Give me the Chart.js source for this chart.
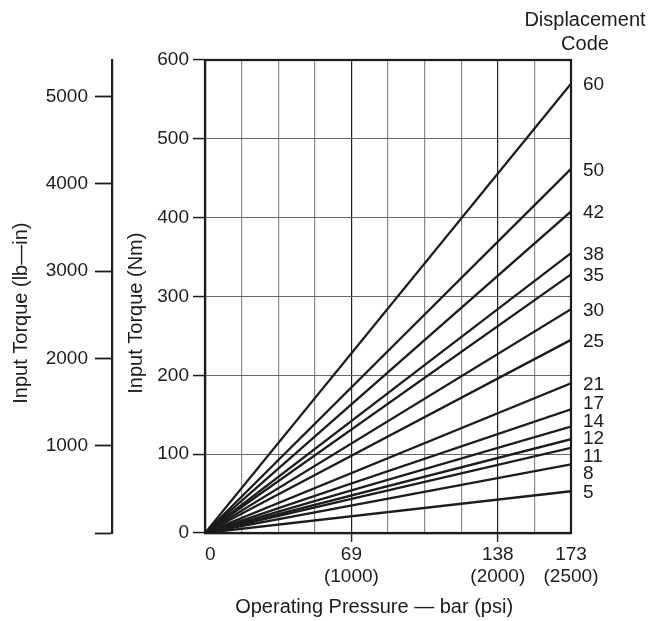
<!DOCTYPE html>
<html><head><meta charset="utf-8">
<script src="https://cdn.jsdelivr.net/npm/chart.js@4.4.0/dist/chart.umd.min.js"></script>
<style>html,body{margin:0;padding:0;background:#fff;} #wrap{width:668px;height:621px;position:relative;}</style>
</head><body><div id="wrap"><canvas id="c" width="668" height="621"></canvas></div>
<script>
// ---- data ----
const displacementCodes = ['60','50','42','38','35','30','25','21','17','14','12','11','8','5'];
const torqueAtMaxPressureNm = [570,462,408,355,328,284,245,190,157,135,119,108,87,53];
const pressureRangePsi = [0, 2500];
const pressureTickValuesPsi = [0, 1000, 2000, 2500];
const pressureTickBar = ['0', '69', '138', '173'];
const pressureTickPsi = ['', '(1000)', '(2000)', '(2500)'];
const nmTickValues = [0, 100, 200, 300, 400, 500, 600];
const lbinTickValues = [0, 1000, 2000, 3000, 4000, 5000];
const lbinAxisMax = 5420;
const legendHeader = ['Displacement', 'Code'];

const FONT = "'Liberation Sans', Arial, Helvetica, sans-serif";
const INK = '#1c1c1c';

const datasets = displacementCodes.map((code, i) => ({
  label: code,
  data: [
    {x: pressureRangePsi[0], y: 0},
    {x: pressureRangePsi[1], y: torqueAtMaxPressureNm[i]}
  ],
  showLine: true,
  borderColor: INK,
  borderWidth: 2.3,
  pointRadius: 0,
  yAxisID: 'y'
}));

const labelPlugin = {
  id: 'endLabels',
  afterDatasetsDraw(chart) {
    const {ctx, chartArea} = chart;
    // frame
    ctx.save();
    ctx.strokeStyle = INK;
    ctx.lineWidth = 2.2;
    ctx.strokeRect(chartArea.left, chartArea.top, chartArea.right - chartArea.left, chartArea.bottom - chartArea.top);
    // end labels with simple de-overlap
    const ys = chart.data.datasets.map((ds, i) => {
      const meta = chart.getDatasetMeta(i);
      const pt = meta.data[meta.data.length - 1];
      return pt.y + 1.5;
    });
    const gap = 17.5;
    for (let it = 0; it < 300; it++) {
      for (let i = 0; i < ys.length - 1; i++) {
        const d = ys[i + 1] - ys[i];
        if (d < gap) {
          const s = (gap - d) / 2;
          ys[i] -= s; ys[i + 1] += s;
        }
      }
    }
    ctx.fillStyle = INK;
    ctx.font = '19px ' + FONT;
    ctx.textAlign = 'left';
    ctx.textBaseline = 'middle';
    chart.data.datasets.forEach((ds, i) => {
      ctx.fillText(ds.label, chartArea.right + 12, ys[i]);
    });
    // header
    ctx.font = '20px ' + FONT;
    ctx.textAlign = 'center';
    ctx.fillText(legendHeader[0], chartArea.right + 14, 20);
    ctx.fillText(legendHeader[1], chartArea.right + 14, 44);
    ctx.restore();
  }
};

new Chart(document.getElementById('c'), {
  type: 'scatter',
  data: {datasets},
  options: {
    responsive: false,
    animation: false,
    devicePixelRatio: 1,
    layout: {padding: {left: 6, right: 97, top: 60, bottom: 0}},
    plugins: {legend: {display: false}, tooltip: {enabled: false}, title: {display: false}},
    scales: {
      x: {
        type: 'linear',
        position: 'bottom',
        min: pressureRangePsi[0],
        max: pressureRangePsi[1],
        afterBuildTicks(scale) {
          const t = [];
          for (let v = pressureRangePsi[0]; v <= pressureRangePsi[1]; v += 250) t.push({value: v});
          scale.ticks = t;
        },
        afterFit(scale) { scale.height = 88; },
        ticks: {
          autoSkip: false,
          maxRotation: 0,
          padding: 1,
          color: INK,
          font: {family: FONT, size: 19},
          callback(v) {
            const k = pressureTickValuesPsi.indexOf(v);
            if (k < 0) return '';
            if (k === 0) return '  ' + pressureTickBar[k];
            return [pressureTickBar[k], pressureTickPsi[k]];
          }
        },
        grid: {
          color: c => (c.tick && (c.tick.value === 1000 || c.tick.value === 2000)) ? '#222' : '#8a8a8a',
          lineWidth: 1.2,
          tickLength: 9,
          tickColor: c => (c.tick && (c.tick.value === 1000 || c.tick.value === 2000)) ? '#222' : 'rgba(0,0,0,0)',
          tickWidth: 1.4
        },
        border: {display: true, color: INK, width: 2.2},
        title: {
          display: true,
          text: 'Operating Pressure \u2014 bar (psi)     ',
          color: INK,
          font: {family: FONT, size: 20},
          padding: {top: 0, bottom: 2}
        }
      },
      y: {
        type: 'linear',
        position: 'left',
        weight: 0,
        min: 0,
        max: 600,
        afterBuildTicks(scale) { scale.ticks = nmTickValues.map(v => ({value: v})); },
        afterFit(scale) { scale.width = 93; },
        ticks: {color: INK, padding: 4, font: {family: FONT, size: 19}},
        grid: {color: '#666', lineWidth: 1.1, tickLength: 12, tickColor: INK, tickWidth: 1.5},
        border: {display: true, color: INK, width: 2.2},
        title: {
          display: true,
          text: 'Input Torque (Nm)      ',
          color: INK,
          font: {family: FONT, size: 20},
          padding: {top: 12, bottom: 0}
        }
      },
      lbin: {
        type: 'linear',
        position: 'left',
        weight: 1,
        min: 0,
        max: lbinAxisMax,
        afterBuildTicks(scale) { scale.ticks = lbinTickValues.map(v => ({value: v})); },
        afterFit(scale) { scale.width = 106; },
        ticks: {color: INK, padding: 7, font: {family: FONT, size: 19},
          callback: v => v === 0 ? '' : String(v)},
        grid: {drawOnChartArea: false, tickLength: 17, tickColor: INK, tickWidth: 1.8},
        border: {display: true, color: INK, width: 2.2},
        title: {
          display: true,
          text: 'Input Torque (lb\u2014in)      ',
          color: INK,
          font: {family: FONT, size: 20},
          padding: {top: 3, bottom: 0}
        }
      }
    }
  },
  plugins: [labelPlugin]
});
</script></body></html>
